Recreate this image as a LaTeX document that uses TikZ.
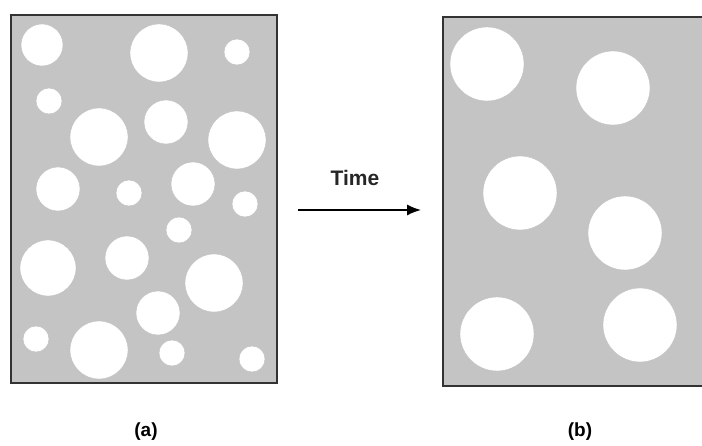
\documentclass[tikz,border=0pt]{standalone}
\usepackage{fontspec}
\setmainfont{Liberation Sans}
\usepackage{tikz}
\usetikzlibrary{arrows.meta}

\definecolor{panelgray}{RGB}{196,196,196}
\tikzset{
  panel/.style={fill=panelgray,draw=black!80,line width=2pt},
  grain/.style={fill=white,draw=black!25,line width=0.4pt},
  caption/.style={font=\bfseries\fontsize{19}{22}\selectfont}
}

\begin{document}
\begin{tikzpicture}[x=1pt,y=-1pt]
\clip (0,0) rectangle (702,446);
\fill[white] (0,0) rectangle (702,446);

% (a) many small and large grains
\draw[panel] (11,15) rectangle (277,383);
\foreach \x/\y/\r in {42/45/21, 159/53/29, 237/52/13, 49/101/13,
    99/137/29, 166/122/22, 237/140/29, 58/189/22, 129/193/13,
    193/184/22, 245/204/13, 179/230/13, 48/268/28, 127/258/22,
    214/283/29, 158/313/22, 36/339/13, 99/350/29, 172/353/13, 252/359/13} {
    \draw[grain] (\x,\y) circle (\r pt);
}

% (b) fewer, coarser grains
\draw[panel] (443,17) rectangle (720,386);
\foreach \x/\y/\r in {487/64/37, 613/88/37, 520/193/37,
    625/233/37, 497/334/37, 640/325/37} {
    \draw[grain] (\x,\y) circle (\r pt);
}

% arrow between the two states
\coordinate (tstart) at (298,210);
\coordinate (tend) at (421,210);
\draw[line width=1.5pt,-{Latex[length=14pt,width=11pt]}] (tstart) -- (tend);
\node[font=\bfseries\fontsize{21}{25}\selectfont,text=black!85] (tlabel) at (355,178) {Time};

\node[caption] (capa) at (146,432) {(a)};
\node[caption] (capb) at (580,432) {(b)};
\end{tikzpicture}
\end{document}
